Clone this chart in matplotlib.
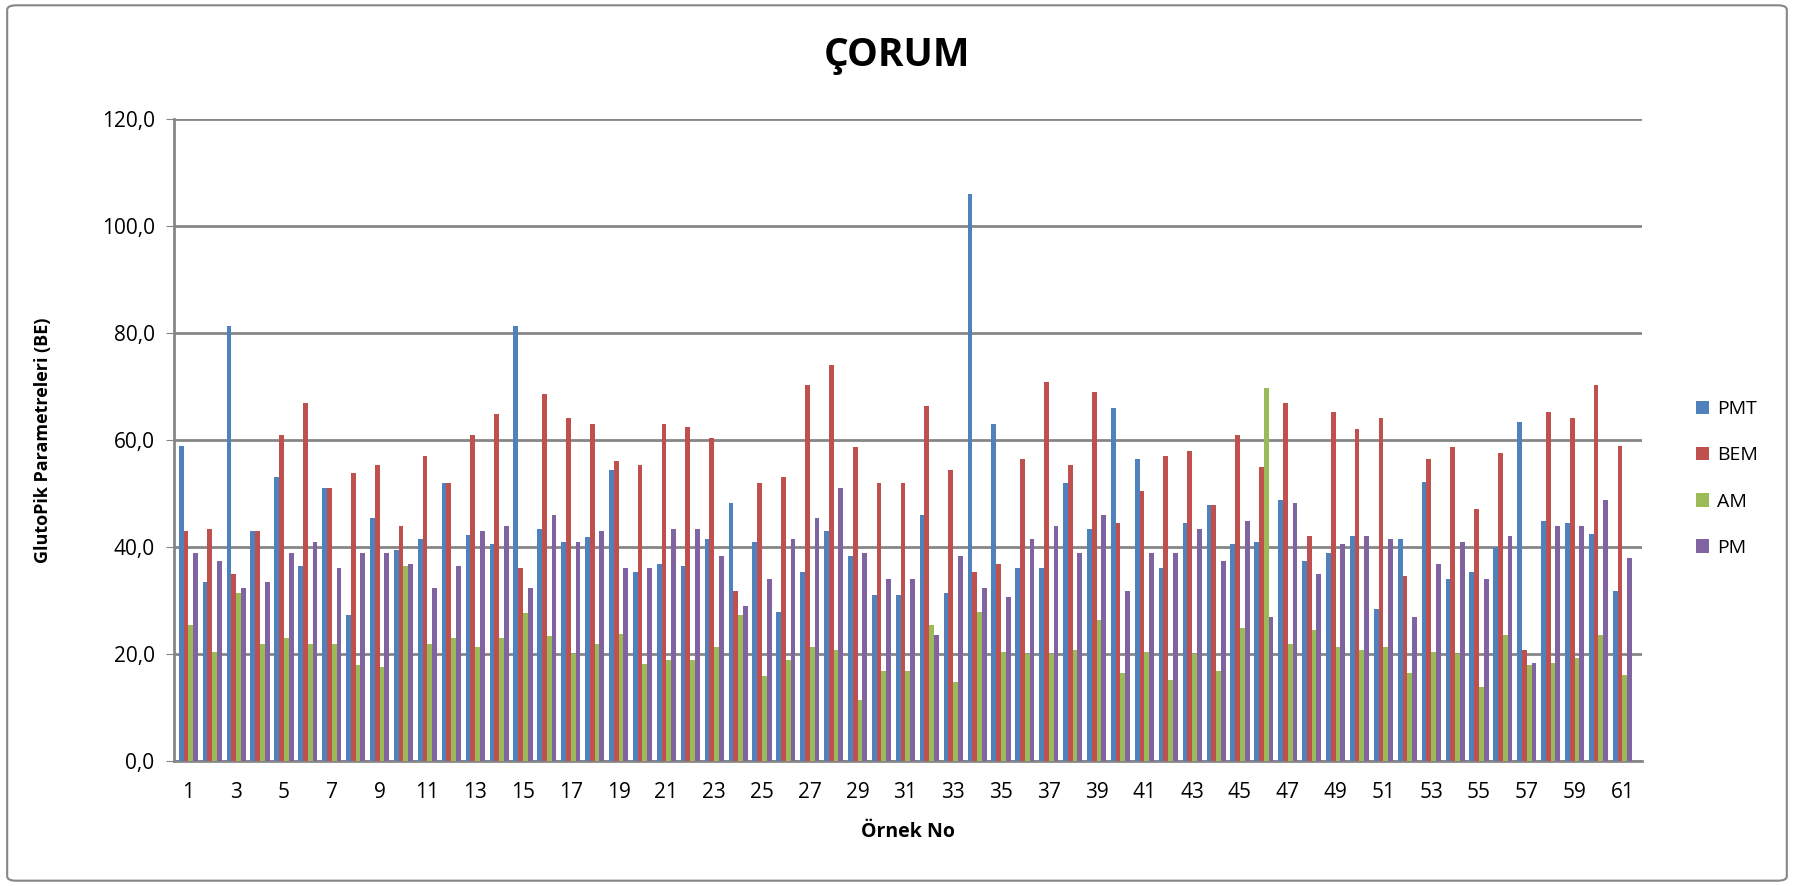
import matplotlib
matplotlib.use("Agg")
import matplotlib.pyplot as plt
import numpy as np
from matplotlib.patches import FancyBboxPatch

plt.rcParams['font.family'] = ['Open Sans', 'DejaVu Sans']

ornek = list(range(1, 62))
pmt = [58.8, 33.4, 81.3, 42.9, 53.0, 36.4, 51.0, 27.3, 45.4, 39.5,
       41.5, 51.9, 42.3, 40.5, 81.3, 43.3, 40.9, 41.9, 54.3, 35.4,
       36.8, 36.4, 41.5, 48.3, 40.9, 27.9, 35.4, 42.9, 38.4, 31.0,
       31.0, 46.0, 31.4, 106.0, 63.0, 36.0, 36.0, 51.9, 43.3, 65.9,
       56.4, 36.0, 44.4, 47.9, 40.5, 40.9, 48.8, 37.3, 38.9, 42.1,
       28.4, 41.5, 52.1, 34.0, 35.4, 39.9, 63.4, 44.9, 44.4, 42.5,
       31.8]
bem = [42.9, 43.3, 34.9, 42.9, 60.9, 66.8, 51.0, 53.9, 55.3, 43.9,
       56.9, 51.9, 60.9, 64.8, 36.0, 68.5, 64.0, 63.0, 56.0, 55.3,
       63.0, 62.4, 60.3, 31.8, 51.9, 53.0, 70.3, 74.0, 58.6, 51.9,
       51.9, 66.4, 54.3, 35.4, 36.8, 56.4, 70.9, 55.3, 68.9, 44.4,
       50.4, 56.9, 58.0, 47.9, 60.9, 54.9, 66.9, 42.1, 65.3, 62.0,
       64.0, 34.5, 56.4, 58.6, 47.0, 57.5, 20.8, 65.3, 64.0, 70.3,
       58.8]
am = [25.5, 20.3, 31.4, 21.9, 22.9, 21.9, 21.9, 18.0, 17.6, 36.5,
      21.9, 22.9, 21.4, 22.9, 27.7, 23.3, 20.0, 21.9, 23.8, 18.2,
      18.8, 18.8, 21.4, 27.3, 15.8, 18.8, 21.4, 20.8, 11.4, 16.8,
      16.8, 25.5, 14.8, 27.9, 20.3, 20.0, 20.0, 20.8, 26.3, 16.4,
      20.3, 15.2, 20.0, 16.8, 24.9, 69.7, 21.9, 24.5, 21.4, 20.8,
      21.4, 16.4, 20.3, 20.0, 13.9, 23.5, 18.0, 18.4, 19.2, 23.5,
      16.0]
pm = [38.9, 37.3, 32.4, 33.4, 38.9, 40.9, 36.0, 38.9, 38.9, 36.8,
      32.4, 36.5, 42.9, 44.0, 32.4, 46.0, 40.9, 42.9, 36.0, 36.0,
      43.3, 43.3, 38.4, 29.0, 34.0, 41.5, 45.4, 51.0, 38.9, 34.0,
      34.0, 23.5, 38.4, 32.4, 30.6, 41.5, 44.0, 38.9, 46.0, 31.8,
      38.9, 38.9, 43.3, 37.3, 44.9, 26.9, 48.3, 35.0, 40.5, 42.1,
      41.5, 26.9, 36.8, 40.9, 34.0, 42.1, 18.4, 44.0, 44.0, 48.8,
      37.9]

seriler = ['PMT', 'BEM', 'AM', 'PM']
renkler = ['#4F81BD', '#C0504D', '#9BBB59', '#8064A2']

fig = plt.figure(figsize=(17.94, 8.86), dpi=100)
ax = fig.add_axes([0.097, 0.141, 0.818, 0.725])

x = np.array(ornek)
w = 0.2
for i, (vals, ad, renk) in enumerate(zip([pmt, bem, am, pm], seriler, renkler)):
    ax.bar(x + (i - 1.5) * w, vals, width=w, color=renk, label=ad, zorder=3)

ax.set_ylim(0, 120)
ax.set_xlim(0.4, 61.8)
ax.set_yticks(range(0, 121, 20))
ax.set_yticklabels([f"{v},0" for v in range(0, 121, 20)], fontsize=15)
ax.set_xticks(ornek[::2])
ax.set_xticklabels([str(v) for v in ornek[::2]], fontsize=15)
ax.tick_params(axis='x', length=0, pad=15)
ax.tick_params(axis='y', length=6, color='#868686', pad=8)
ax.yaxis.grid(True, color='#868686', linewidth=2, zorder=0)
for s in ['top', 'right']:
    ax.spines[s].set_visible(False)
for s in ['left', 'bottom']:
    ax.spines[s].set_color('#868686')
    ax.spines[s].set_linewidth(2)

ax.set_ylabel('GlutoPik Parametreleri (BE)', fontsize=13, fontweight='bold', labelpad=36)
ax.set_xlabel('Örnek No', fontsize=14, fontweight='bold', labelpad=14)
fig.text(0.5, 0.937, 'ÇORUM', ha='center', va='center', fontsize=28, fontweight='bold')

ax.legend(loc='center left', bbox_to_anchor=(1.025, 0.44), frameon=False, fontsize=14,
          labelspacing=1.45, handlelength=0.7, handleheight=0.7, handletextpad=0.4)

fig.patches.append(FancyBboxPatch((0.004, 0.006), 0.992, 0.988, boxstyle='round,pad=0,rounding_size=0.005',
                                  transform=fig.transFigure, fill=False, edgecolor='#868686', linewidth=1.5))

fig.savefig('out.png', dpi=100)
